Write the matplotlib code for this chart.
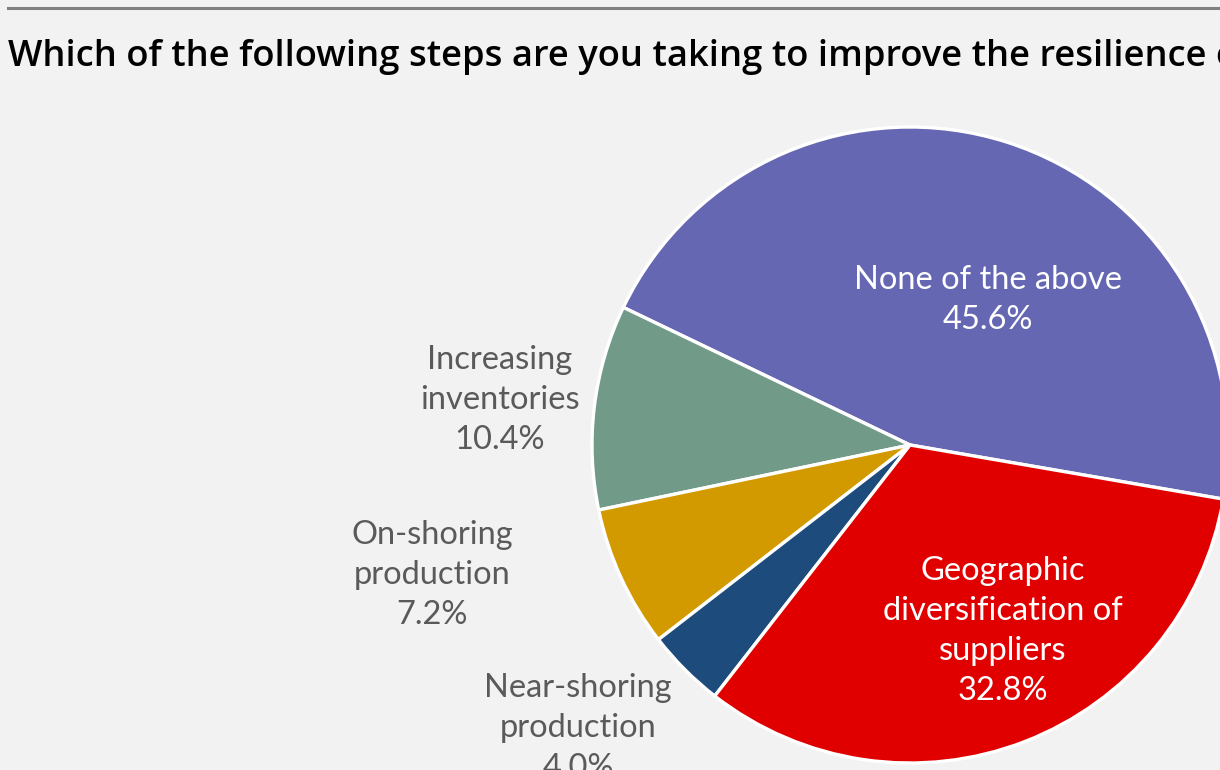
import matplotlib.pyplot as plt
from matplotlib.lines import Line2D

# Survey answers, in drawing order (counter-clockwise)
categories = ['None of the above', 'Increasing\ninventories', 'On-shoring\nproduction',
              'Near-shoring\nproduction', 'Geographic\ndiversification of\nsuppliers']
shares = [45.6, 10.4, 7.2, 4.0, 32.8]
colors = ['#6667B3', '#729A88', '#D39A00', '#1D4B7C', '#E00000']
title = 'Which of the following steps are you taking to improve the resilience of your supply chain?'

BG = '#F2F2F2'
W, H = 1220, 770

plt.rcParams['font.family'] = ['Lato', 'DejaVu Sans']

fig = plt.figure(figsize=(W / 100, H / 100), dpi=100)
fig.patch.set_facecolor(BG)
ax = fig.add_axes([0, 0, 1, 1])
ax.set_facecolor(BG)

cx, cy, r = 910, H - 445, 318
wedges, _ = ax.pie(shares, colors=colors, startangle=-9.8, counterclock=True,
                   center=(cx, cy), radius=r,
                   wedgeprops=dict(edgecolor='white', linewidth=2.4))
ax.set_xlim(0, W)
ax.set_ylim(0, H)
ax.set_aspect('equal')
ax.axis('off')

# label centres in pixels (x, y from top) and text colour
label_pos = [(988, 300, 'white'), (500, 400, '#5A5A5A'), (432, 575, '#5A5A5A'),
             (578, 728, '#5A5A5A'), (1003, 631, 'white')]
for name, val, (x, y, col) in zip(categories, shares, label_pos):
    ax.text(x, H - y, f'{name}\n{val:.1f}%', ha='center', va='center', color=col,
            fontsize=23.5, linespacing=1.42)

fig.add_artist(Line2D([8 / W, 1], [1 - 8 / H, 1 - 8 / H], color='#808080', lw=2.2))
fig.text(8 / W, 1 - 57 / H, title, ha='left', va='center', fontsize=26.2,
         fontweight='semibold', color='black', family=['Open Sans', 'DejaVu Sans'])

fig.savefig('out.png', dpi=100, facecolor=BG)
